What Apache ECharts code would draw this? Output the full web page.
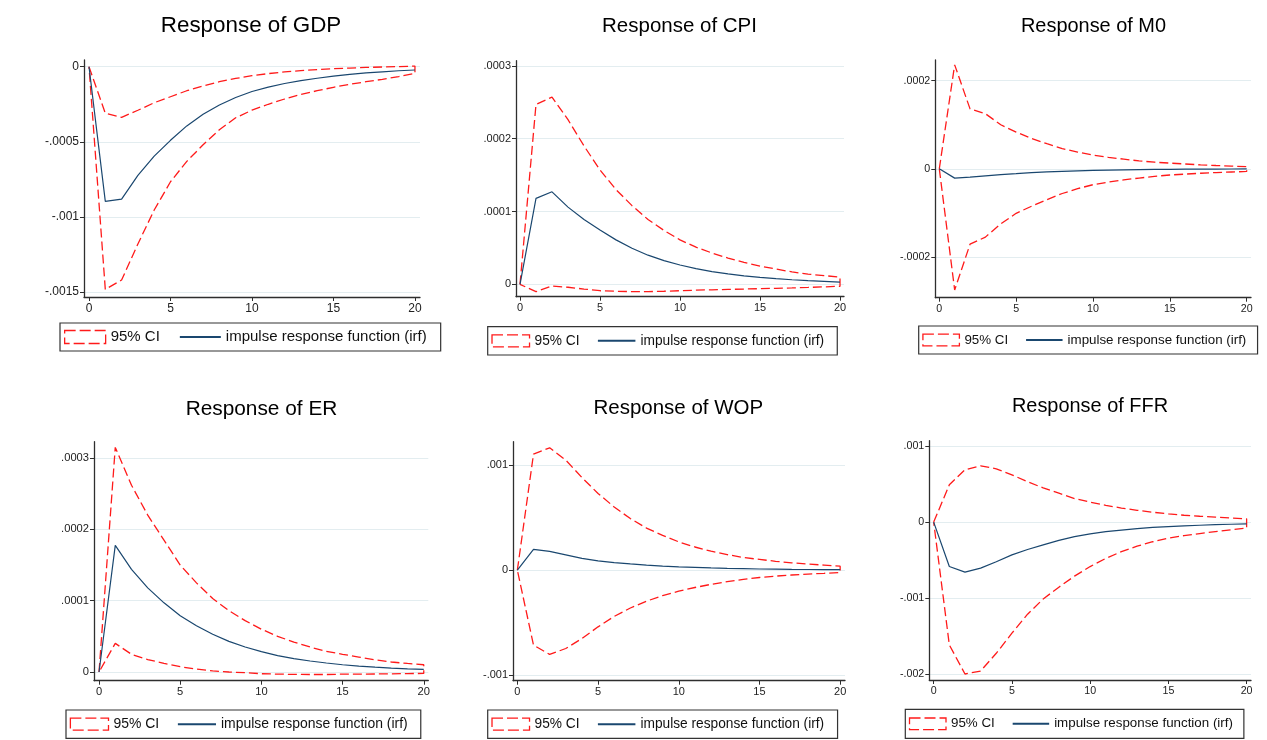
<!DOCTYPE html>
<html>
<head>
<meta charset="utf-8">
<title>Impulse responses</title>
<script src="https://cdn.jsdelivr.net/npm/echarts@6.0.0/dist/echarts.min.js"></script>
<style>
html, body { margin: 0; padding: 0; background: #fff; }
#chart { width: 1267px; height: 740px; }
</style>
</head>
<body>
<div id="chart"></div>
<script>
// steps after the shock
var horizon = [0, 1, 2, 3, 4, 5, 6, 7, 8, 9, 10, 11, 12, 13, 14, 15, 16, 17, 18, 19, 20];
var xTicks = [0, 5, 10, 15, 20];

var gdpIrf   = [0, -0.000896, -0.000881, -0.000724, -0.000595, -0.00049, -0.000394, -0.000317, -0.000255, -0.000205, -0.000165, -0.000136, -0.000112, -0.000093, -0.000077, -0.000063, -0.000051, -0.000041, -0.000034, -0.000027, -0.000022];
var gdpUpper = [0, -0.00031, -0.000337, -0.00029, -0.00024, -0.0002, -0.00016, -0.000128, -0.0001, -0.000078, -0.00006, -0.000046, -0.000035, -0.000026, -0.000019, -0.000013, -0.000009, -0.000005, -0.000002, 0.000001, 0.000004];
var gdpLower = [0, -0.001482, -0.00142, -0.00118, -0.000954, -0.000766, -0.00063, -0.00052, -0.00042, -0.00034, -0.000289, -0.00025, -0.000215, -0.000185, -0.00016, -0.000137, -0.000117, -0.0001, -0.000084, -0.000066, -0.000045];
var gdpTicks = [0, -0.0005, -0.001, -0.0015];

var cpiIrf   = [0, 0.000118, 0.000127, 0.000106, 0.000089, 0.0000745, 0.000061, 0.0000495, 0.00004, 0.0000325, 0.0000265, 0.0000215, 0.0000175, 0.0000143, 0.0000117, 0.0000096, 0.0000078, 0.0000063, 0.000005, 0.000004, 0.000003];
var cpiUpper = [0, 0.000247, 0.000257, 0.000226, 0.00019, 0.000157, 0.00013, 0.000108, 0.000089, 0.000074, 0.000061, 0.000051, 0.000043, 0.000036, 0.00003, 0.000025, 0.000021, 0.000017, 0.000014, 0.000012, 0.0000097];
var cpiLower = [0, -0.0000101, -0.0000023, -0.000004, -0.0000065, -0.0000088, -0.0000095, -0.00001, -0.00001, -0.0000095, -0.0000088, -0.000008, -0.0000075, -0.000007, -0.0000065, -0.000006, -0.0000055, -0.000005, -0.0000043, -0.0000035, -0.0000027];
var cpiTicks = [0, 0.0001, 0.0002, 0.0003];

var m0Irf   = [0, -0.0000211, -0.000019, -0.000016, -0.000013, -0.000011, -0.0000088, -0.000007, -0.0000057, -0.0000045, -0.0000036, -0.0000029, -0.0000023, -0.0000018, -0.0000014, -0.0000011, -0.0000009, -0.0000007, -0.0000005, -0.0000004, -0.0000003];
var m0Upper = [0, 0.000236, 0.000136, 0.000125, 0.0001, 0.0000834, 0.000069, 0.000057, 0.000046, 0.000038, 0.0000311, 0.000026, 0.000022, 0.000018, 0.000015, 0.000013, 0.000011, 0.000009, 0.0000075, 0.0000062, 0.000005];
var m0Lower = [0, -0.000275, -0.000171, -0.000155, -0.000125, -0.000101, -0.000085, -0.00007, -0.000056, -0.000045, -0.000036, -0.00003, -0.000025, -0.000021, -0.000017, -0.000014, -0.000012, -0.00001, -0.0000085, -0.0000072, -0.000006];
var m0Ticks = [-0.0002, 0, 0.0002];

var erIrf   = [0, 0.0001776, 0.000144, 0.000118, 0.000097, 0.000079, 0.000065, 0.000053, 0.000043, 0.000035, 0.0000285, 0.000023, 0.0000188, 0.0000154, 0.0000126, 0.0000102, 0.0000083, 0.0000068, 0.0000055, 0.0000045, 0.0000037];
var erUpper = [0, 0.000315, 0.000262, 0.00022, 0.000185, 0.00015, 0.000125, 0.000103, 0.000086, 0.000072, 0.00006, 0.00005, 0.000042, 0.000035, 0.000029, 0.0000248, 0.000021, 0.000017, 0.000014, 0.000012, 0.0000102];
var erLower = [0, 0.0000402, 0.0000248, 0.0000175, 0.000012, 0.0000074, 0.000004, 0.0000015, 0, -0.000001, -0.0000024, -0.000003, -0.0000033, -0.0000035, -0.0000035, -0.000003, -0.000003, -0.0000028, -0.0000025, -0.0000022, -0.000002];
var erTicks = [0, 0.0001, 0.0002, 0.0003];

var wopIrf   = [0, 0.000197, 0.000178, 0.000145, 0.000112, 0.000088, 0.000072, 0.000059, 0.000048, 0.000039, 0.000031, 0.000026, 0.000021, 0.000017, 0.000014, 0.000011, 0.000009, 0.000007, 0.000006, 0.000005, 0.000004];
var wopUpper = [0, 0.001103, 0.001163, 0.001046, 0.00088, 0.000729, 0.0006, 0.00049, 0.0004, 0.00033, 0.000269, 0.00022, 0.00018, 0.000148, 0.00012, 0.000102, 0.000084, 0.00007, 0.000058, 0.000048, 0.000038];
var wopLower = [0, -0.000713, -0.000801, -0.000745, -0.00065, -0.000539, -0.00044, -0.00036, -0.000295, -0.000242, -0.0002, -0.000165, -0.000135, -0.00011, -0.000088, -0.00007, -0.000057, -0.000046, -0.000037, -0.00003, -0.000022];
var wopTicks = [-0.001, 0, 0.001];

var ffrIrf   = [0, -0.000584, -0.000658, -0.000605, -0.00052, -0.00043, -0.00036, -0.0003, -0.00024, -0.00019, -0.000154, -0.000126, -0.000104, -0.000085, -0.00007, -0.000058, -0.000049, -0.000041, -0.000034, -0.000028, -0.000022];
var ffrUpper = [0, 0.00049, 0.000688, 0.00074, 0.000701, 0.000622, 0.00053, 0.00045, 0.00038, 0.00031, 0.000263, 0.00022, 0.000185, 0.000155, 0.00013, 0.000109, 0.00009, 0.000077, 0.000066, 0.000055, 0.000043];
var ffrLower = [0, -0.001614, -0.001996, -0.001957, -0.001724, -0.00146, -0.00121, -0.00101, -0.000855, -0.00071, -0.000584, -0.000476, -0.000388, -0.000316, -0.000258, -0.00021, -0.000177, -0.00015, -0.000125, -0.0001, -0.000079];
var ffrTicks = [-0.002, -0.001, 0, 0.001];

var panels = [
    {name: 'GDP', irf: gdpIrf, upper: gdpUpper, lower: gdpLower, ticks: gdpTicks},
    {name: 'CPI', irf: cpiIrf, upper: cpiUpper, lower: cpiLower, ticks: cpiTicks},
    {name: 'M0',  irf: m0Irf,  upper: m0Upper,  lower: m0Lower,  ticks: m0Ticks},
    {name: 'ER',  irf: erIrf,  upper: erUpper,  lower: erLower,  ticks: erTicks},
    {name: 'WOP', irf: wopIrf, upper: wopUpper, lower: wopLower, ticks: wopTicks},
    {name: 'FFR', irf: ffrIrf, upper: ffrUpper, lower: ffrLower, ticks: ffrTicks}
];

// where each panel sits in the picture: plot box, axis extents, title centre, legend box, scale
var layout = [
    {plot: [84, 60, 336, 237],      x: [-0.307, 20.31], y: [-0.001533, 0.0000446], title: [251, 18.3],    legend: [60, 323, 379, 28],       s: 1},
    {plot: [516, 60.7, 328, 236],   x: [-0.25, 20.25],  y: [-0.000017, 0.000307],  title: [679.5, 19],    legend: [487.7, 326.7, 348, 28.3], s: 0.915},
    {plot: [935.3, 60, 315.7, 237.7], x: [-0.26, 20.28], y: [-0.0002925, 0.000247], title: [1093.5, 19],  legend: [918.7, 326, 337.3, 28],  s: 0.89},
    {plot: [94, 441.7, 334.3, 239], x: [-0.31, 20.28],  y: [-0.0000122, 0.000323], title: [261.5, 401.5], legend: [66, 710, 353.3, 28.3],   s: 0.93},
    {plot: [513, 441.7, 332, 239],  x: [-0.27, 20.3],   y: [-0.001051, 0.001221],  title: [678.3, 401.5], legend: [487.7, 710, 348.3, 28.3], s: 0.915},
    {plot: [929.3, 440.7, 321.7, 239.3], x: [-0.28, 20.28], y: [-0.002075, 0.00107], title: [1090, 399],  legend: [905.3, 709.3, 337, 29], s: 0.89}
];

var FONT = 'Liberation Sans, Arial, sans-serif';
var CI_NAME = '95% CI';
var IRF_NAME = 'impulse response function (irf)';
var RED = '#ff1a1a';
var NAVY = '#1a476f';
var AXIS = '#2e2e2e';

// stata style tick text: .0002, -.001
function tickText(v) {
    if (v === 0) return '0';
    return String(v).replace('0.', '.');
}

var chart = echarts.init(document.getElementById('chart'), null, {renderer: 'canvas'});

var option = {
    backgroundColor: '#fff',
    animation: false,
    grid: [], xAxis: [], yAxis: [], series: [], title: [], legend: []
};

panels.forEach(function (p, i) {
    var L = layout[i];
    var s = L.s;

    option.grid.push({left: L.plot[0], top: L.plot[1], width: L.plot[2], height: L.plot[3]});

    option.xAxis.push({
        gridIndex: i, type: 'value', min: L.x[0], max: L.x[1],
        axisLine: {show: true, onZero: false, lineStyle: {color: AXIS, width: 1.3}},
        axisTick: {show: true, length: 4, customValues: xTicks, lineStyle: {color: AXIS, width: 1}},
        axisLabel: {customValues: xTicks, fontSize: 12 * s, color: '#222', margin: 6, fontFamily: FONT},
        splitLine: {show: false}
    });

    option.yAxis.push({
        gridIndex: i, type: 'value', min: L.y[0], max: L.y[1],
        axisLine: {show: true, onZero: false, lineStyle: {color: AXIS, width: 1.3}},
        axisTick: {show: true, length: 4, customValues: p.ticks, lineStyle: {color: AXIS, width: 1}},
        axisLabel: {customValues: p.ticks, formatter: tickText, fontSize: 12 * s, color: '#222', margin: 5, fontFamily: FONT},
        splitLine: {show: true, lineStyle: {color: '#e3edf0', width: 1}}
    });

    // the band is drawn as one closed outline: upper bound out, lower bound back
    var band = horizon.map(function (h, k) { return [h, p.upper[k]]; })
        .concat(horizon.map(function (h, k) { return [h, p.lower[k]]; }).reverse());

    option.series.push({
        type: 'line', name: CI_NAME, xAxisIndex: i, yAxisIndex: i,
        data: band, symbol: 'none', silent: true,
        lineStyle: {color: RED, width: 1.3, type: [9, 4]}, itemStyle: {color: RED}
    });
    option.series.push({
        type: 'line', name: IRF_NAME, xAxisIndex: i, yAxisIndex: i,
        data: horizon.map(function (h, k) { return [h, p.irf[k]]; }),
        symbol: 'none', silent: true, z: 3,
        lineStyle: {color: NAVY, width: 1.2}, itemStyle: {color: NAVY}
    });

    var tf = 22.4 * s;
    option.title.push({
        text: 'Response of ' + p.name,
        left: L.title[0], top: L.title[1] - 0.134 * tf, textAlign: 'center',
        padding: 0,
        textStyle: {fontSize: tf, fontWeight: 'normal', color: '#000', fontFamily: FONT}
    });

    // legend box sized from the picture
    var fs = 15 * s, iw = 41 * s, ih = 13 * s, gap = 19 * s;
    var content = iw + 5 + 3.279 * fs + gap + iw + 5 + 13.393 * fs;
    var padL = 4 * s;
    var padR = Math.max(2, L.legend[2] - padL - content);
    var lh = fs + 1;
    var padV = (L.legend[3] - lh) / 2;
    option.legend.push({
        left: L.legend[0], top: L.legend[1],
        padding: [padV, padR, padV, padL],
        borderColor: '#333', borderWidth: 1.2,
        itemWidth: iw, itemHeight: ih, itemGap: gap,
        selectedMode: false,
        textStyle: {fontSize: fs, lineHeight: lh, color: '#111', fontFamily: FONT},
        data: [
            {name: CI_NAME, icon: 'rect',
             itemStyle: {color: 'rgba(0,0,0,0)', borderColor: RED, borderWidth: 1.3, borderType: [11, 4]}},
            {name: IRF_NAME, itemStyle: {opacity: 0}}
        ]
    });
});

chart.setOption(option);
</script>
</body>
</html>
